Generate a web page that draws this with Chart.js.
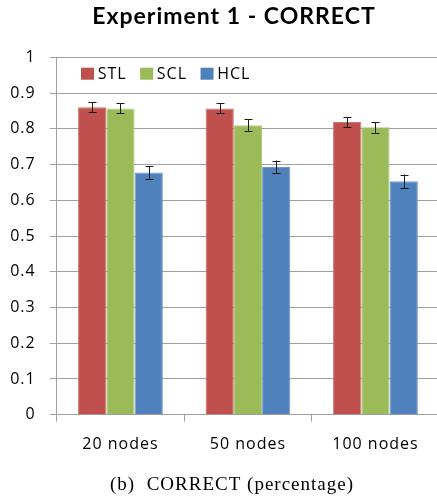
<!DOCTYPE html>
<html><head><meta charset="utf-8">
<script src="https://cdn.jsdelivr.net/npm/chart.js@4"></script>
<style>html,body{margin:0;padding:0;overflow:hidden;background:#fff}</style>
</head><body>
<canvas id="c" width="440" height="501"></canvas>
<script>
const categories = ['20 nodes', '50 nodes', '100 nodes'];
const seriesNames = ['STL', 'SCL', 'HCL'];
const stlValues = [0.860, 0.857, 0.819];
const sclValues = [0.857, 0.810, 0.804];
const hclValues = [0.678, 0.693, 0.653];
const stlErrors = [0.014, 0.014, 0.014];
const sclErrors = [0.014, 0.016, 0.015];
const hclErrors = [0.018, 0.018, 0.019];
const yTickLabels = ['0', '0.1', '0.2', '0.3', '0.4', '0.5', '0.6', '0.7', '0.8', '0.9', '1'];
const titleText = 'Experiment 1 - CORRECT';
const captionText = '(b)  CORRECT (percentage)';
const seriesColors = ['#C0504D', '#9BBB59', '#4F81BD'];
const seriesEdges = ['#CD726F', '#ADC77A', '#7098CB'];

const gridColor = '#A0A0A0';
const tickFont = { family: '"Open Sans", sans-serif', size: 16 };

const spacingPlugin = {
  id: 'spacing',
  beforeLayout(chart) { chart.ctx.letterSpacing = '1px'; },
  beforeDraw(chart) { chart.ctx.letterSpacing = '1px'; }
};

const titleShift = {
  id: 'titleShift',
  afterLayout(chart) {
    const t = chart.titleBlock;
    if (t) { t.left = 14; t.right = 454; }
    chart.boxes.forEach((b) => {
      if (b !== t && b.options && b.options.text === captionText) {
        b.left = 12; b.right = 452;
      }
    });
  }
};

const errorBars = {
  id: 'errorBars',
  afterDatasetsDraw(chart) {
    const ctx = chart.ctx;
    const ys = chart.scales.y;
    ctx.save();
    ctx.strokeStyle = '#1a1a1a';
    ctx.lineWidth = 1;
    chart.data.datasets.forEach((ds, i) => {
      const meta = chart.getDatasetMeta(i);
      meta.data.forEach((el, j) => {
        const v = ds.data[j], e = ds.errors[j];
        const x = Math.round(el.x) + 0.5;
        const y1 = ys.getPixelForValue(v + e);
        const y2 = ys.getPixelForValue(v - e);
        ctx.beginPath();
        ctx.moveTo(x, y1); ctx.lineTo(x, y2);
        ctx.moveTo(x - 4, Math.round(y1) + 0.5); ctx.lineTo(x + 4, Math.round(y1) + 0.5);
        ctx.moveTo(x - 4, Math.round(y2) + 0.5); ctx.lineTo(x + 4, Math.round(y2) + 0.5);
        ctx.stroke();
      });
    });
    ctx.restore();
  }
};

const innerLegend = {
  id: 'innerLegend',
  afterDraw(chart) {
    const ctx = chart.ctx;
    const ca = chart.chartArea;
    ctx.save();
    ctx.letterSpacing = '1px';
    ctx.font = '16px "Open Sans", sans-serif';
    ctx.textBaseline = 'middle';
    ctx.textAlign = 'left';
    let x = ca.left + 24.3;
    const top = ca.top + 10.4;
    chart.data.datasets.forEach((ds) => {
      ctx.fillStyle = ds.backgroundColor;
      ctx.fillRect(x, top, 13, 12);
      ctx.fillStyle = '#000';
      ctx.fillText(ds.label, x + 16.7, top + 6.3);
      x += 16.7 + ctx.measureText(ds.label).width + 13.5;
    });
    ctx.restore();
  }
};

new Chart(document.getElementById('c'), {
  type: 'bar',
  data: {
    labels: categories,
    datasets: [
      { label: seriesNames[0], data: stlValues, errors: stlErrors, backgroundColor: seriesColors[0], borderColor: seriesEdges[0] },
      { label: seriesNames[1], data: sclValues, errors: sclErrors, backgroundColor: seriesColors[1], borderColor: seriesEdges[1] },
      { label: seriesNames[2], data: hclValues, errors: hclErrors, backgroundColor: seriesColors[2], borderColor: seriesEdges[2] }
    ]
  },
  options: {
    responsive: false,
    animation: false,
    devicePixelRatio: 1,
    categoryPercentage: 0.665,
    barPercentage: 1.0,
    borderWidth: 1,
    borderSkipped: 'bottom',
    layout: { padding: { left: 0, right: 0.8, top: 0, bottom: 0 } },
    plugins: {
      legend: { display: false },
      tooltip: { enabled: false },
      title: {
        display: true,
        text: titleText,
        color: '#000',
        font: { family: 'Lato, sans-serif', size: 23, weight: 'bold' },
        padding: { top: 2.3, bottom: 27.4 }
      },
      subtitle: {
        display: true,
        position: 'bottom',
        text: captionText,
        color: '#000',
        font: { family: '"Liberation Serif", serif', size: 19, weight: 'normal' },
        padding: { top: 0, bottom: 4.3 }
      }
    },
    scales: {
      x: {
        grid: { display: true, drawOnChartArea: false, drawTicks: true, tickLength: 7, color: gridColor, offset: true },
        border: { display: true, color: gridColor },
        ticks: { padding: 13, font: tickFont, color: '#000' },
        afterFit: (s) => { s.height = 59.2; }
      },
      y: {
        min: 0,
        max: 1,
        grid: { color: gridColor, tickLength: 7, drawTicks: true },
        border: { display: true, color: gridColor },
        ticks: { stepSize: 0.1, padding: 14, font: tickFont, color: '#000',
                 callback: (v, i) => yTickLabels[i] },
        afterFit: (s) => { s.width = 56.7; }
      }
    }
  },
  plugins: [spacingPlugin, titleShift, errorBars, innerLegend]
});
</script>
</body></html>
